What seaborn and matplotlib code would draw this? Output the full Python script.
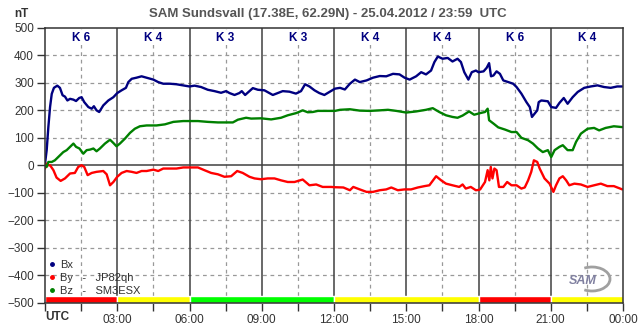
import numpy as np
import pandas as pd
import seaborn as sns
import matplotlib
matplotlib.use("Agg")
import matplotlib.pyplot as plt
from matplotlib.lines import Line2D
from matplotlib.patches import Arc

# Magnetometer readings (hours UTC, nT)
bx_hours = [0.00, 0.07, 0.14, 0.21, 0.28, 0.37, 0.51, 0.62, 0.73, 0.83, 0.93, 1.04, 1.18, 1.29,
            1.42, 1.52, 1.63, 1.80, 1.94, 2.03, 2.14, 2.25, 2.42, 2.63, 2.84, 3.00, 3.18, 3.36,
            3.46, 3.60, 3.80, 4.01, 4.22, 4.50, 4.70, 4.91, 5.19, 5.46, 5.74, 6.00, 6.21, 6.48,
            6.76, 7.04, 7.31, 7.52, 7.66, 7.87, 8.07, 8.17, 8.31, 8.49, 8.63, 8.84, 9.11, 9.32,
            9.46, 9.67, 9.87, 10.15, 10.42, 10.63, 10.80, 10.98, 11.19, 11.39, 11.60, 11.81,
            12.04, 12.25, 12.45, 12.66, 12.87, 13.07, 13.35, 13.62, 13.90, 14.17, 14.45, 14.72,
            14.93, 15.14, 15.41, 15.62, 15.82, 16.03, 16.17, 16.31, 16.51, 16.72, 16.92, 17.13,
            17.27, 17.41, 17.58, 17.72, 17.89, 18.00, 18.21, 18.34, 18.44, 18.52, 18.62, 18.75,
            18.89, 19.03, 19.23, 19.44, 19.58, 19.78, 19.99, 20.13, 20.22, 20.33, 20.44, 20.50,
            20.61, 20.88, 21.02, 21.22, 21.36, 21.54, 21.70, 21.91, 22.12, 22.39, 22.66, 22.94,
            23.21, 23.49, 23.76, 23.97]
bx_values = [5, 55, 140, 212, 260, 282, 290, 282, 255, 250, 236, 242, 239, 234,
             245, 248, 230, 212, 206, 215, 200, 194, 218, 236, 248, 263, 273, 282,
             303, 315, 319, 324, 319, 312, 303, 297, 297, 295, 291, 287, 290, 285,
             275, 270, 264, 270, 263, 256, 263, 270, 256, 270, 281, 275, 273, 263,
             256, 263, 270, 268, 261, 270, 295, 287, 273, 263, 256, 267,
             279, 282, 276, 297, 312, 303, 309, 319, 325, 324, 333, 331,
             319, 312, 324, 339, 331, 345, 376, 396, 388, 391, 378, 388,
             376, 339, 312, 339, 345, 339, 342, 355, 372, 324, 327, 342,
             333, 309, 303, 297, 285, 261, 230, 212, 176, 188, 200, 230,
             236, 233, 212, 209, 227, 245, 224, 248, 267, 282, 287, 291,
             285, 282, 287, 287]

by_hours = [0.00, 0.07, 0.14, 0.21, 0.35, 0.48, 0.65, 0.83, 1.04, 1.24, 1.38, 1.52, 1.63, 1.77,
            1.94, 2.14, 2.42, 2.56, 2.70, 2.84, 3.00, 3.18, 3.39, 3.60, 3.80, 4.01, 4.22, 4.50,
            4.70, 4.91, 5.19, 5.46, 5.74, 6.00, 6.35, 6.62, 6.90, 7.18, 7.45, 7.73, 7.98, 8.21,
            8.49, 8.70, 8.97, 9.25, 9.53, 9.80, 10.08, 10.36, 10.70, 10.98, 11.26, 11.53, 11.88,
            12.04, 12.39, 12.66, 12.80, 13.07, 13.35, 13.62, 13.90, 14.17, 14.38, 14.65, 14.93,
            15.20, 15.48, 15.76, 15.96, 16.24, 16.45, 16.65, 16.92, 17.20, 17.34, 17.47, 17.68,
            17.89, 18.00, 18.07, 18.27, 18.38, 18.45, 18.51, 18.58, 18.66, 18.75, 18.85, 19.03,
            19.19, 19.37, 19.58, 19.78, 19.92, 20.06, 20.19, 20.30, 20.44, 20.54, 20.74, 20.95,
            21.11, 21.22, 21.36, 21.50, 21.64, 21.77, 21.98, 22.25, 22.53, 22.80, 23.08, 23.35,
            23.62, 23.97]
by_values = [-12, 6, 0, 0, -18, -45, -57, -48, -30, -28, -6, 0, -6, -36,
             -28, -24, -21, -33, -73, -61, -42, -28, -21, -24, -28, -21, -21, -16,
             -21, -12, -12, -12, -8, -8, -8, -18, -28, -33, -42, -40, -21, -28,
             -42, -48, -51, -48, -48, -55, -61, -61, -52, -73, -70, -79, -79,
             -80, -81, -91, -79, -88, -97, -97, -91, -88, -81, -91, -88,
             -88, -81, -76, -73, -40, -55, -67, -73, -79, -70, -85, -79,
             -91, -90, -88, -61, -18, -55, -6, -48, -12, -18, -79, -79,
             -61, -73, -73, -85, -81, -55, -24, 18, 12, -12, -48, -67,
             -97, -73, -48, -40, -55, -73, -67, -70, -79, -73, -67, -76,
             -76, -88]

bz_hours = [0.00, 0.07, 0.14, 0.28, 0.41, 0.55, 0.76, 0.90, 1.04, 1.18, 1.29, 1.43, 1.59, 1.73,
            1.87, 2.01, 2.14, 2.28, 2.49, 2.70, 2.84, 2.97, 3.11, 3.32, 3.53, 3.73, 3.94, 4.22,
            4.63, 4.98, 5.33, 5.74, 6.00, 6.35, 6.76, 7.18, 7.80, 8.01, 8.35, 8.56, 8.97, 9.39,
            9.80, 10.08, 10.43, 10.70, 10.91, 11.12, 11.33, 11.88, 12.04, 12.25, 12.66, 13.07,
            13.49, 13.90, 14.24, 14.59, 15.00, 15.41, 15.82, 16.10, 16.37, 16.65, 16.92, 17.13,
            17.34, 17.61, 17.82, 18.07, 18.27, 18.38, 18.44, 18.62, 18.82, 19.10, 19.37, 19.58,
            19.78, 20.06, 20.26, 20.47, 20.67, 20.88, 21.02, 21.16, 21.36, 21.50, 21.70, 21.91,
            22.05, 22.25, 22.53, 22.80, 23.01, 23.28, 23.62, 23.97]
bz_values = [0, -6, 12, 12, 18, 30, 48, 55, 67, 79, 67, 61, 42, 55,
             57, 61, 51, 61, 79, 93, 81, 69, 79, 97, 118, 133, 142, 145,
             145, 149, 158, 161, 161, 161, 158, 156, 156, 166, 173, 170, 171, 167,
             173, 182, 190, 200, 193, 194, 198, 198, 198, 202, 204, 199,
             198, 200, 202, 198, 192, 196, 202, 208, 194, 182, 176, 173,
             181, 196, 184, 190, 194, 206, 164, 152, 138, 130, 121, 121,
             100, 91, 79, 61, 48, 55, 30, 55, 67, 73, 55, 55,
             85, 115, 133, 136, 127, 136, 142, 139]

# K index per 3-hour block and the activity colour band
k_values = [6, 4, 3, 3, 4, 4, 6, 4]
band_start = [0, 3, 6, 12, 18, 21]
band_end = [3, 6, 12, 18, 21, 24]
band_colors = ["#ff0000", "#ffff00", "#00ff00", "#ffff00", "#ff0000", "#ffff00"]

series = [("Bx", bx_hours, bx_values, "#000080"),
          ("By   -   JP82qh", by_hours, by_values, "#ff0000"),
          ("Bz   -   SM3ESX", bz_hours, bz_values, "#008000")]

sns.set_style("white")
plt.rcParams["font.family"] = ["Liberation Sans Narrow", "Liberation Sans", "DejaVu Sans"]
text_col = "#333333"

fig = plt.figure(figsize=(6.43, 3.31), dpi=100)
ax = fig.add_axes([45 / 643, 28.5 / 331, 578 / 643, 274.5 / 331])

# grid: dashed every 1.5 h / 100 nT, solid every 3 h and at zero
for h in np.arange(1.5, 24, 3):
    ax.axvline(h, color="#999999", lw=0.9, ls=(0, (3, 3)), zorder=1)
for v in range(-400, 500, 100):
    if v != 0:
        ax.axhline(v, color="#999999", lw=0.9, ls=(0, (3, 3)), zorder=1)
for h in range(3, 24, 3):
    ax.axvline(h, color="#404040", lw=1.1, zorder=1)
ax.axhline(0, color="#404040", lw=1.1, zorder=1)

for label, hrs, vals, col in series:
    df = pd.DataFrame({"hour": hrs, "nT": vals})
    sns.lineplot(data=df, x="hour", y="nT", color=col, lw=1.7, ax=ax, zorder=3)

for s, e, c in zip(band_start, band_end, band_colors):
    ax.broken_barh([(s, e - s)], (-500, 25), facecolors=c, zorder=4)

for i, k in enumerate(k_values):
    ax.text(i * 3 + 1.5, 465, f"K {k}", color="#000080", fontsize=8.5,
            fontweight="bold", ha="center", va="center", zorder=5,
            bbox=dict(boxstyle="square,pad=0.15", fc="white", ec="none"))

ax.set_xlim(0, 24)
ax.set_ylim(-500, 500)
ax.set_xlabel("")
ax.set_ylabel("")
ax.set_yticks(range(-500, 501, 100))
ax.set_xticks(np.arange(0, 24.1, 1.5))
xlabels = []
for h in np.arange(0, 24.1, 1.5):
    if h == 0 or h % 3:
        xlabels.append("")
    else:
        xlabels.append(f"{int(h) % 24:02d}:00")
ax.set_xticklabels(xlabels)
ax.tick_params(axis="both", direction="out", length=6, width=1, color=text_col,
               labelsize=8.5, labelcolor=text_col, pad=2, left=True, bottom=True)
for sp in ax.spines.values():
    sp.set_color(text_col)
    sp.set_linewidth(1.1)
    sp.set_zorder(6)

ax.text(0, -0.03, "UTC", transform=ax.get_xaxis_transform(), fontsize=8.5,
        fontweight="bold", color=text_col, ha="left", va="top")

handles = [Line2D([], [], ls="", marker="o", ms=2.5, color=c) for _, _, _, c in series]
ax.legend(handles, [s[0] for s in series], loc="lower left", bbox_to_anchor=(-0.005, 0.0),
          frameon=False, fontsize=8, labelcolor=text_col, handlelength=0.6,
          handletextpad=0.4, labelspacing=0.25, borderaxespad=0.2)

fig.text(328 / 643, 1 - 14 / 331, "SAM Sundsvall (17.38E, 62.29N) - 25.04.2012 / 23:59  UTC",
         fontsize=9.5, fontweight="bold", color="#555555", ha="center", va="center")
fig.text(21 / 643, 1 - 14 / 331, "nT", fontsize=8.5, fontweight="bold", color=text_col,
         ha="center", va="center")

# small logo in the corner
fig.text(583 / 643, 1 - 281 / 331, "SAM", fontsize=9, fontstyle="italic", fontweight="bold",
         color="#8080a0", ha="center", va="center")
fig.add_artist(Arc((592 / 643, 1 - 279 / 331), 36 / 643, 24 / 331, theta1=-110, theta2=110,
                   color="#a0a0a0", lw=2, transform=fig.transFigure))

fig.savefig("out.png", dpi=100)
